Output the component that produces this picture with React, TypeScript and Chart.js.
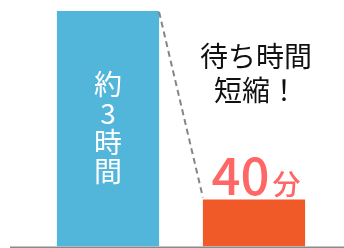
import React, { useEffect, useRef } from "react";
import { Chart, registerables } from "chart.js";
Chart.register(...registerables);

const categories = ["導入前", "導入後"];
const waitMinutes = [180, 36];
const barColors = ["#52B5DA", "#F05A28"];
const beforeLabel = ["約", "3", "時", "間"];
const afterValueLabel = "40";
const afterUnitLabel = "分";
const headline = ["待ち時間", "短縮！"];

const FONT = '"Noto Sans CJK JP", "Noto Sans", sans-serif';

const overlay = {
  id: "overlay",
  afterDatasetsDraw(chart: any) {
    const ctx = chart.ctx as CanvasRenderingContext2D;
    const meta = chart.getDatasetMeta(0);
    const b0 = meta.data[0] as any;
    const b1 = meta.data[1] as any;
    const baseY = chart.scales.y.getPixelForValue(0);
    ctx.save();
    // baseline
    ctx.strokeStyle = "#8a8a8a";
    ctx.lineWidth = 1.5;
    ctx.beginPath();
    ctx.moveTo(10, baseY + 0.75);
    ctx.lineTo(chart.width, baseY + 0.75);
    ctx.stroke();
    // dashed connector
    ctx.strokeStyle = "#858585";
    ctx.lineWidth = 2;
    ctx.setLineDash([6, 4]);
    ctx.beginPath();
    ctx.moveTo(b0.x + b0.width / 2, b0.y + 1);
    ctx.lineTo(b1.x - b1.width / 2, b1.y - 2);
    ctx.stroke();
    ctx.setLineDash([]);
    // vertical label
    ctx.fillStyle = "#ffffff";
    ctx.font = `28px ${FONT}`;
    ctx.textAlign = "center";
    ctx.textBaseline = "middle";
    beforeLabel.forEach((ch, i) => {
      ctx.fillText(ch, b0.x, 84 + i * 29);
    });
    // headline
    ctx.fillStyle = "#111111";
    ctx.font = `28px ${FONT}`;
    headline.forEach((line, i) => {
      ctx.fillText(line, b1.x + 2, 56 + i * 34);
    });
    // 40分
    ctx.fillStyle = "#FF6666";
    ctx.textBaseline = "alphabetic";
    ctx.textAlign = "left";
    const bigFont = `500 51px ${FONT}`;
    const smallFont = `500 28px ${FONT}`;
    ctx.font = bigFont;
    const w1 = ctx.measureText(afterValueLabel).width;
    ctx.font = smallFont;
    const w2 = ctx.measureText(afterUnitLabel).width;
    const gap = 3;
    const start = b1.x + 2 - (w1 + gap + w2) / 2;
    ctx.font = bigFont;
    ctx.fillText(afterValueLabel, start, 195);
    ctx.font = smallFont;
    ctx.fillText(afterUnitLabel, start + w1 + gap, 195);
    ctx.restore();
  },
};

export default function App() {
  const ref = useRef<HTMLCanvasElement>(null);
  useEffect(() => {
    const chart = new Chart(ref.current!, {
      type: "bar",
      data: {
        labels: categories,
        datasets: [
          {
            data: waitMinutes,
            backgroundColor: barColors,
            borderWidth: 0,
            barPercentage: 1,
            categoryPercentage: 0.7,
          },
        ],
      },
      options: {
        animation: false,
        responsive: false,
        maintainAspectRatio: false,
        layout: { padding: { left: 35, right: 17, top: 11, bottom: 1.5 } },
        plugins: { legend: { display: false }, tooltip: { enabled: false } },
        scales: {
          x: { display: false },
          y: { display: false, min: 0, max: 180 },
        },
      },
      plugins: [overlay],
    });
    return () => chart.destroy();
  }, []);
  return (
    <div style={{ position: "fixed", left: 0, top: 0, width: 344, height: 248, background: "#fff" }}>
      <canvas ref={ref} width={344} height={248} style={{ width: 344, height: 248, display: "block" }} />
    </div>
  );
}
